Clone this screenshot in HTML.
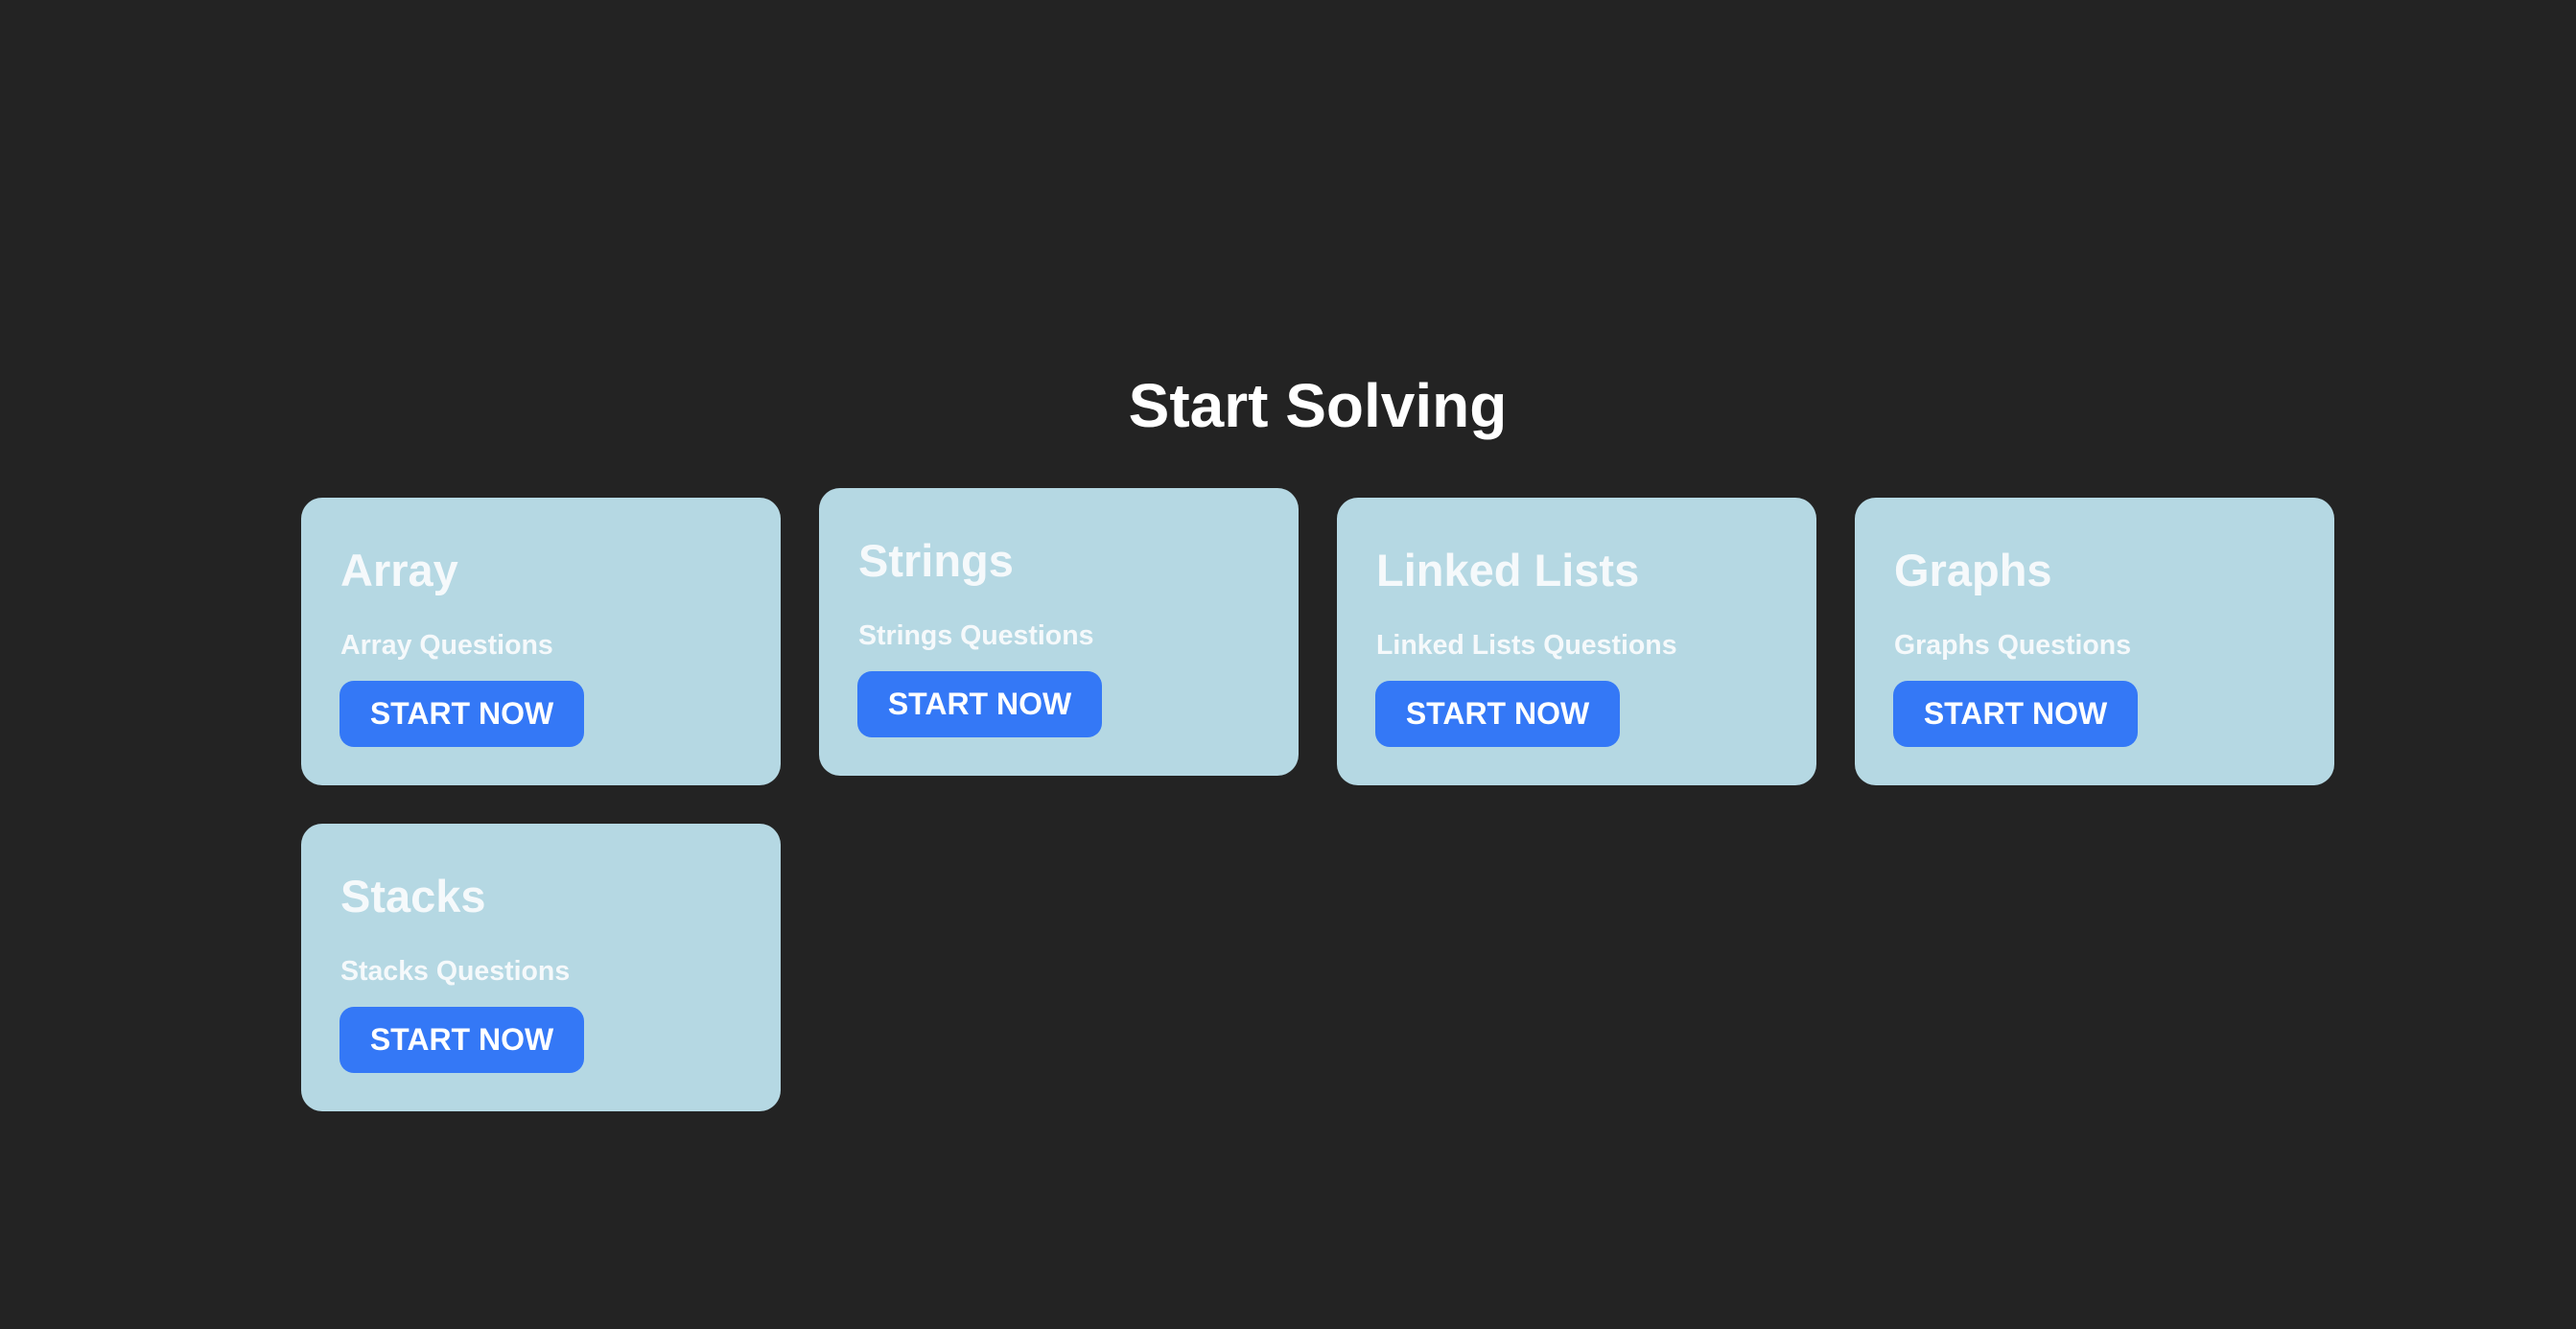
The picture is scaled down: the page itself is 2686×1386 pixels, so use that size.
<!DOCTYPE html>
<html><head><meta charset="utf-8"><style>
html,body{margin:0;padding:0;}
body{width:2686px;height:1386px;background:#232323;position:relative;overflow:hidden;font-family:"Liberation Sans",Arial,sans-serif;font-weight:bold;}
.t{position:absolute;left:62px;width:2624px;text-align:center;top:391px;font-size:64px;line-height:1;color:#fff;}
.c{position:absolute;width:500px;height:300px;background:#b5d8e3;border-radius:22px;}
.h{position:absolute;left:41px;top:52px;font-size:47px;line-height:1;color:#f5f9fb;}
.s{position:absolute;left:41px;top:140px;font-size:28.5px;line-height:1;color:#f5f9fb;}
.b{position:absolute;left:40px;top:191px;width:255px;height:69px;background:#3478f6;border-radius:15px;color:#fff;font-size:32px;line-height:69px;text-align:center;}
</style></head><body>
<div class="t">Start Solving</div>
<div class="c" style="left:314px;top:519px"><div class="h">Array</div><div class="s">Array Questions</div><div class="b">START NOW</div></div>
<div class="c" style="left:854px;top:509px"><div class="h">Strings</div><div class="s">Strings Questions</div><div class="b">START NOW</div></div>
<div class="c" style="left:1394px;top:519px"><div class="h">Linked Lists</div><div class="s">Linked Lists Questions</div><div class="b">START NOW</div></div>
<div class="c" style="left:1934px;top:519px"><div class="h">Graphs</div><div class="s">Graphs Questions</div><div class="b">START NOW</div></div>
<div class="c" style="left:314px;top:859px"><div class="h">Stacks</div><div class="s">Stacks Questions</div><div class="b">START NOW</div></div>
</body></html>
